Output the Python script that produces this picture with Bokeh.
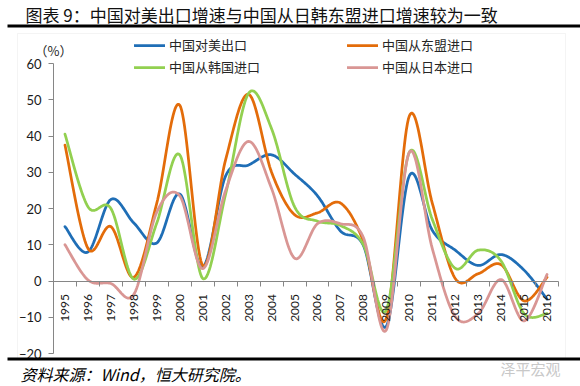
import numpy as np
from math import pi
from bokeh.plotting import figure
from bokeh.models import (Range1d, LinearAxis, FixedTicker, Label, BoxAnnotation,
                          Legend, LegendItem)
from bokeh.core.properties import value
from bokeh.embed import file_html
from bokeh.resources import INLINE

# ---------------- data ----------------
years = list(range(1995, 2017))
year_labels = {y: str(y) for y in years}
y_ticks = [-20, -10, 0, 10, 20, 30, 40, 50, 60]

us_export = [15, 8, 22.5, 16, 10.5, 24, 3.8, 29, 32, 34.8, 29.5, 23.5, 13.8, 9.8,
             -12.5, 29, 14, 8.5, 4.3, 7.3, 3, -5]
asean_import = [37.5, 9, 15, 1, 21.5, 48.5, 4.3, 33.5, 51.5, 30, 18.3, 18.8, 21.5, 11,
                -10.3, 45.5, 21.5, 0.7, 2, 4.5, -5.5, 1]
korea_import = [40.5, 20.5, 20, 0.5, 16, 34.8, 0.7, 24, 51.8, 42, 20.5, 16.5, 15.3, 10,
                -8, 35.5, 17, 3.5, 8.5, 5.5, -9, -9]
japan_import = [10, 0.3, -0.7, -3.7, 19, 23.5, 3.4, 25, 38.5, 25.5, 6.3, 15.8, 15.8, 12,
                -13.5, 35.5, 9, -9.8, -9, 0.4, -11, 1.8]

series_names = ["中国对美出口", "中国从东盟进口", "中国从韩国进口", "中国从日本进口"]
series_values = [us_export, asean_import, korea_import, japan_import]
colors = ["#1F6EB6", "#E36C0A", "#92D050", "#D99694"]

title_text = "图表 9：中国对美出口增速与中国从日韩东盟进口增速较为一致"
source_text = "资料来源：Wind，恒大研究院。"
unit_text = "（%）"
watermark_text = "泽平宏观"


def smooth(xs, ys, n=24):
    """Excel-like smoothed line (Catmull-Rom as cubic Bezier)."""
    pts = np.column_stack([np.asarray(xs, float), np.asarray(ys, float)])
    ext = np.vstack([pts[0], pts, pts[-1]])
    t = np.linspace(0, 1, n, endpoint=False)[:, None]
    out = []
    for i in range(len(pts) - 1):
        p0, p1, p2, p3 = ext[i], ext[i + 1], ext[i + 2], ext[i + 3]
        c1 = p1 + (p2 - p0) / 6.0
        c2 = p2 - (p3 - p1) / 6.0
        b = ((1 - t) ** 3) * p1 + 3 * ((1 - t) ** 2) * t * c1 + 3 * (1 - t) * (t ** 2) * c2 + (t ** 3) * p2
        out.append(b)
    out.append(pts[-1][None, :])
    arr = np.vstack(out)
    return arr[:, 0], arr[:, 1]


# ---------------- layout (page pixels) ----------------
W, H = 580, 386
PL, PR, PT, PB = 53, 558, 63, 353          # plotting area edges
ppx = (PR - PL) / len(years)
ppy = (PB - PT) / (y_ticks[-1] - y_ticks[0])
x0 = years[0] - 0.5 - PL / ppx
x1 = years[-1] + 0.5 + (W - PR) / ppx
y1 = y_ticks[-1] + PT / ppy
y0 = y_ticks[0] - (H - PB) / ppy


def sy(page_y):
    return H - page_y


p = figure(width=W, height=H, x_range=Range1d(x0, x1), y_range=Range1d(y0, y1),
           output_backend="svg", toolbar_location=None,
           x_axis_location=None, y_axis_location=None, min_border=0)
p.xgrid.visible = False
p.ygrid.visible = False
p.outline_line_color = None
p.background_fill_color = "white"
p.border_fill_color = "white"

AX = "#868686"
yax = LinearAxis(fixed_location=years[0] - 0.5, bounds=(y_ticks[0], y_ticks[-1]),
                 ticker=FixedTicker(ticks=y_ticks),
                 axis_line_color=AX, major_tick_line_color=AX,
                 major_tick_in=0, major_tick_out=5, minor_tick_line_color=None,
                 major_label_standoff=7, major_label_text_font="Lato",
                 major_label_text_font_size="13px", major_label_text_color="#1a1a1a")
p.add_layout(yax, "left")

bounds = [y - 0.5 for y in years] + [years[-1] + 0.5]
xax = LinearAxis(fixed_location=0, bounds=(bounds[0], bounds[-1]),
                 ticker=FixedTicker(ticks=years, minor_ticks=bounds),
                 major_label_overrides=year_labels,
                 axis_line_color=AX, major_tick_line_color=None,
                 major_tick_in=0, major_tick_out=0,
                 minor_tick_line_color=AX, minor_tick_in=0, minor_tick_out=5,
                 major_label_orientation=pi / 2, major_label_standoff=8,
                 major_label_text_font="Lato", major_label_text_font_size="12px",
                 major_label_text_color="#1a1a1a")
p.add_layout(xax, "below")

renderers = []
for name, vals, c in zip(series_names, series_values, colors):
    xs, ys = smooth(years, vals)
    r = p.line(xs, ys, line_color=c, line_width=2.75, line_join="round", line_cap="round")
    renderers.append(r)

# legends (two columns)
leg_common = dict(orientation="vertical", glyph_width=31, glyph_height=16, label_height=16,
                  spacing=3, label_standoff=4, padding=0, margin=0,
                  border_line_color=None, background_fill_alpha=0,
                  label_text_font="Noto Sans CJK SC", label_text_font_size="13px",
                  label_text_color="#262626")
leg1 = Legend(items=[LegendItem(label=series_names[0], renderers=[renderers[0]]),
                     LegendItem(label=series_names[2], renderers=[renderers[2]])],
              location=(134, sy(76)), **leg_common)
leg2 = Legend(items=[LegendItem(label=series_names[1], renderers=[renderers[1]]),
                     LegendItem(label=series_names[3], renderers=[renderers[3]])],
              location=(347, sy(76)), **leg_common)
p.add_layout(leg1)
p.add_layout(leg2)

scr = dict(left_units="screen", right_units="screen", top_units="screen", bottom_units="screen")
# chart frame box
p.add_layout(BoxAnnotation(left=17, right=565, top=sy(33), bottom=sy(358), fill_alpha=0,
                           line_color="#D9D9D9", line_width=1, **scr))
# heavy black rules
p.add_layout(BoxAnnotation(left=7, right=W, top=sy(24), bottom=sy(27),
                           fill_color="black", fill_alpha=1, line_color=None, **scr))
p.add_layout(BoxAnnotation(left=7, right=W, top=sy(357), bottom=sy(360),
                           fill_color="black", fill_alpha=1, line_color=None, **scr))

p.add_layout(Label(x=25, y=sy(13.5), x_units="screen", y_units="screen", text=title_text,
                   text_baseline="middle", text_font="Noto Sans CJK SC",
                   text_font_size="17px", text_color="#111111"))
p.add_layout(Label(x=34, y=sy(50), x_units="screen", y_units="screen", text=unit_text,
                   text_baseline="middle", text_font="Noto Sans CJK SC",
                   text_font_size="13px", text_color="#262626"))
p.add_layout(Label(x=20, y=sy(373), x_units="screen", y_units="screen", text=source_text,
                   text_baseline="middle", text_font="Noto Sans CJK SC", text_font_style="italic",
                   text_font_size="16px", text_color="black"))
p.add_layout(Label(x=500, y=sy(368), x_units="screen", y_units="screen", text=watermark_text,
                   text_baseline="middle", text_font="Noto Sans CJK SC",
                   text_font_size="15px", text_color="#C8C8C8"))

open("out.html", "w").write(file_html(p, INLINE))
